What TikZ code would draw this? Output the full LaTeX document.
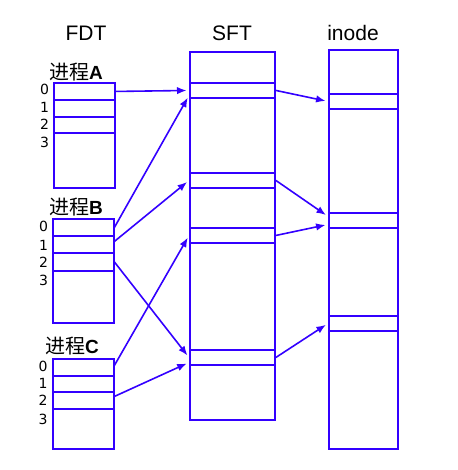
\documentclass[tikz,border=0pt]{standalone}
\usepackage{fontspec}
\setmainfont{Liberation Sans}
\newfontfamily\cjk{Noto Sans CJK SC}
\newfontfamily\dvs{DejaVu Sans}
\usetikzlibrary{arrows.meta}
\definecolor{ublue}{RGB}{51,0,255}
\newcommand{\plet}[1]{\fontspec{Liberation Sans}\fontsize{19bp}{22bp}\selectfont\bfseries #1}
\begin{document}
\begin{tikzpicture}[x=1bp,y=-1bp,
  tbl/.style={draw=ublue, line width=2bp, inner sep=0, anchor=north west},
  cell/.style={draw=ublue, line width=1.9bp, inner sep=0, anchor=north west},
  conn/.style={draw=ublue, line width=1.6bp, -{Latex[length=9.5bp,width=7.5bp]}, shorten >=2.5bp},
  head/.style={anchor=base, inner sep=0, font=\fontsize{21bp}{24bp}\selectfont},
  proc/.style={anchor=base west, inner sep=0, font=\fontsize{20bp}{24bp}\selectfont},
  idx/.style={anchor=base, inner sep=0, font=\dvs\fontsize{14bp}{16bp}\selectfont},
]
\useasboundingbox (0,0) rectangle (458,470);
% headings
\node[head] (hfdt) at (86,41) {FDT};
\node[head] (hsft) at (232,41) {SFT};
\node[head] (hino) at (353,41) {inode};
% process A
\node[proc] (pa) at (49,80) {\cjk 进程\plet{A}};
\node[tbl, minimum width=61bp, minimum height=105bp] (A) at (53,82) {};
\node[cell, minimum width=61bp, minimum height=17bp] (a0) at (53,82) {};
\node[cell, minimum width=61bp, minimum height=17bp] (a1) at (53,99) {};
\node[cell, minimum width=61bp, minimum height=16.5bp] (a2) at (53,116) {};
\node[idx] (na0) at (44.5,95) {0};
\node[idx] (na1) at (44.5,113) {1};
\node[idx] (na2) at (44.5,130) {2};
\node[idx] (na3) at (44.5,148) {3};
% process B
\node[proc] (pb) at (49,215) {\cjk 进程\plet{B}};
\node[tbl, minimum width=60.5bp, minimum height=104bp] (B) at (52,218) {};
\node[cell, minimum width=60.5bp, minimum height=17bp] (b0) at (52,218) {};
\node[cell, minimum width=60.5bp, minimum height=17bp] (b1) at (52,235) {};
\node[cell, minimum width=60.5bp, minimum height=18bp] (b2) at (52,252) {};
\node[idx] (nb0) at (43.5,231.5) {0};
\node[idx] (nb1) at (43.5,250) {1};
\node[idx] (nb2) at (43.5,267) {2};
\node[idx] (nb3) at (43.5,285) {3};
% process C
\node[proc] (pc) at (45,353) {\cjk 进程\plet{C}};
\node[tbl, minimum width=60.5bp, minimum height=90bp] (C) at (52,358) {};
\node[cell, minimum width=60.5bp, minimum height=17bp] (c0) at (52,358) {};
\node[cell, minimum width=60.5bp, minimum height=16bp] (c1) at (52,375) {};
\node[cell, minimum width=60.5bp, minimum height=17bp] (c2) at (52,391) {};
\node[idx] (nc0) at (43,371.5) {0};
\node[idx] (nc1) at (43,388.5) {1};
\node[idx] (nc2) at (43,405) {2};
\node[idx] (nc3) at (43,424) {3};
% SFT
\node[tbl, minimum width=85bp, minimum height=368bp] (S) at (189,51) {};
\node[cell, minimum width=85bp, minimum height=15bp] (s1) at (189,82) {};
\node[cell, minimum width=85bp, minimum height=15bp] (s2) at (189,172) {};
\node[cell, minimum width=85bp, minimum height=15bp] (s3) at (189,227) {};
\node[cell, minimum width=85bp, minimum height=15bp] (s4) at (189,349) {};
% inode
\node[tbl, minimum width=69bp, minimum height=399bp] (I) at (328,49) {};
\node[cell, minimum width=69bp, minimum height=15bp] (i1) at (328,93) {};
\node[cell, minimum width=69bp, minimum height=15bp] (i2) at (328,212) {};
\node[cell, minimum width=69bp, minimum height=15bp] (i3) at (328,315) {};
% connectors FDT -> SFT
\draw[conn] (a0.east) -- (s1.west);
\draw[conn] (b0.east) -- ([yshift=-5bp]s1.west);
\draw[conn] ([yshift=3bp]b1.east) -- (s2.west);
\draw[conn] (b2.east) -- (s4.west);
\draw[conn] ([yshift=2bp]c0.east) -- (s3.west);
\draw[conn] ([yshift=4bp]c2.east) -- ([yshift=-5bp]s4.west);
% connectors SFT -> inode
\draw[conn] (s1.east) -- (i1.west);
\draw[conn] (s2.east) -- ([yshift=4bp]i2.west);
\draw[conn] (s3.east) -- ([yshift=-4bp]i2.west);
\draw[conn] (s4.east) -- (i3.west);
\end{tikzpicture}
\end{document}
